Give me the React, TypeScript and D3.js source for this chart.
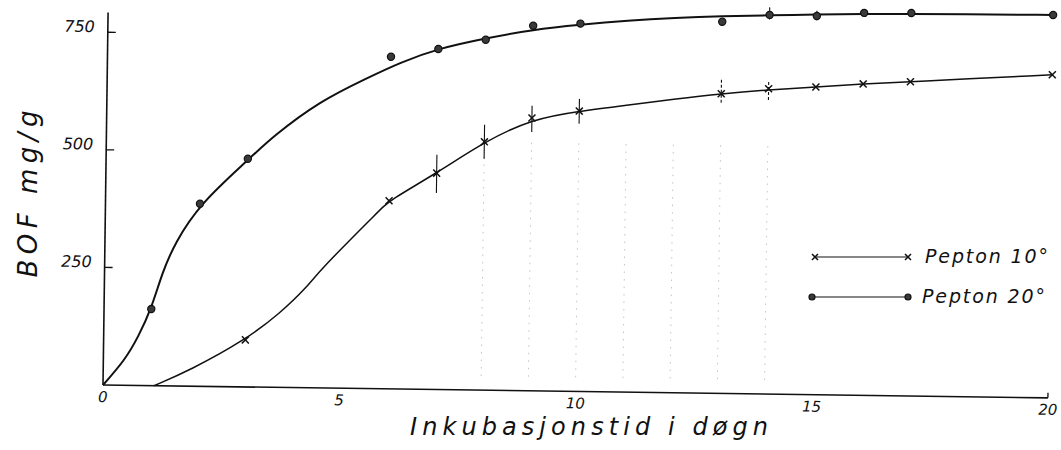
import React from "react";
import * as d3 from "d3";

// Measured points (day, BOF mg/g)
const days20 = [1, 2, 3, 6, 7, 8, 9, 10, 13, 14, 15, 16, 17, 20];
const bof20 = [163, 388, 485, 706, 724, 745, 776, 782, 790, 806, 805, 813, 814, 814];

const days10 = [3, 6, 7, 8, 9, 10, 13, 14, 15, 16, 17, 20];
const bof10 = [100, 400, 460, 528, 580, 596, 637, 649, 654, 662, 668, 687];

// Error bars
const errDays10 = [7, 8, 9, 10, 13, 14];
const errLow10 = [418, 492, 550, 569, 618, 625];
const errHigh10 = [499, 564, 606, 622, 667, 664];
const errDays20 = [14, 15];
const errLow20 = [796, 796];
const errHigh20 = [822, 816];

// Hand-drawn fitted curves
const curveX20 = [0, 0.46, 0.73, 1, 1.22, 1.48, 2, 3, 3.52, 4.51, 5.5, 6.19, 7, 8, 9, 10, 11, 12, 13, 14, 15, 16, 17, 18, 20];
const curveY20 = [0, 54, 103, 163, 240, 304, 388, 482, 533, 610, 660, 694, 725, 748, 768, 780, 790, 797, 802, 805, 808, 811, 812, 813, 814];
const curveX10 = [1.08, 1.84, 3, 3.73, 4.29, 4.56, 5.81, 6, 7, 8, 9, 10, 11, 12, 13, 14, 15, 16, 17, 20];
const curveY10 = [0, 34, 100, 158, 214, 251, 380, 400, 460, 528, 578, 596, 610, 624, 637, 647, 654, 662, 668, 687];

// faint dotted guide lines
const gridDays = [8, 9, 10, 11, 12, 13, 14];

const yTicks = [250, 500, 750];
const xTicks = [0, 5, 10, 15, 20];
const legendLabels = ["Pepton 10°", "Pepton 20°"];
const xTitle = "Inkubasjonstid i døgn";
const yTitle = "BOF mg/g";

const FONT = "'DejaVu Sans', sans-serif";
const INK = "#111";

function Cross({ cx, cy, s = 3.5, w = 1.5 }: { cx: number; cy: number; s?: number; w?: number }) {
  return (
    <g stroke={INK} strokeWidth={w}>
      <line x1={cx - s} y1={cy - s} x2={cx + s} y2={cy + s} />
      <line x1={cx - s} y1={cy + s} x2={cx + s} y2={cy - s} />
    </g>
  );
}

function Dot({ cx, cy, r = 3.6 }: { cx: number; cy: number; r?: number }) {
  return <circle cx={cx} cy={cy} r={r} fill="#3a3a3a" stroke={INK} strokeWidth={1.2} />;
}

export default function App() {
  const W = 1061;
  const H = 450;
  const x = d3.scaleLinear().domain([0, 20]).range([103, 1048]);
  const y = d3.scaleLinear().domain([0, 750]).range([385, 32.2]);

  const line = d3
    .line<[number, number]>()
    .x((d) => x(d[0]))
    .y((d) => y(d[1]))
    .curve(d3.curveBasis);

  const c20 = curveX20.map((v, i) => [v, curveY20[i]] as [number, number]);
  const c10 = curveX10.map((v, i) => [v, curveY10[i]] as [number, number]);

  return (
    <svg
      width={W}
      height={H}
      style={{ position: "absolute", left: 0, top: 0, background: "#fff" }}
      fontFamily={FONT}
    >
      <rect x={0} y={0} width={W} height={H} fill="#fff" />
      <g transform={`rotate(0.78 ${x(0)} ${y(0)})`}>
        {gridDays.map((d) => (
          <line
            key={"g" + d}
            x1={x(d)}
            x2={x(d)}
            y1={y(30)}
            y2={y(540)}
            stroke="#c4c4c4"
            strokeWidth={1}
            strokeDasharray="1.5 6"
          />
        ))}
        <line x1={x(0)} y1={y(0)} x2={x(0)} y2={y(792)} stroke={INK} strokeWidth={1.6} />
        <line x1={x(0)} y1={y(0)} x2={x(20)} y2={y(0)} stroke={INK} strokeWidth={1.6} />
        <line x1={x(20)} y1={y(0)} x2={x(20)} y2={y(0) - 5} stroke={INK} strokeWidth={1.3} />
        {yTicks.map((t) => (
          <g key={"yt" + t}>
            <line x1={x(0)} x2={x(0) + 8} y1={y(t)} y2={y(t)} stroke={INK} strokeWidth={1.3} />
            <text x={x(0) - 13} y={y(t)} textAnchor="end" fontSize={16} fontStyle="italic" fill={INK}>
              {t}
            </text>
          </g>
        ))}
        {xTicks.map((t) => (
          <text
            key={"xt" + t}
            x={x(t)}
            y={y(0) + 17}
            textAnchor="middle"
            fontSize={15}
            fontStyle="italic"
            fill={INK}
          >
            {t}
          </text>
        ))}

        <path d={line(c20) || ""} fill="none" stroke={INK} strokeWidth={2} />
        <path d={line(c10) || ""} fill="none" stroke={INK} strokeWidth={1.5} />

        {errDays10.map((d, i) => (
          <line
            key={"e10" + d}
            x1={x(d)}
            x2={x(d)}
            y1={y(errLow10[i])}
            y2={y(errHigh10[i])}
            stroke={INK}
            strokeWidth={1.1}
            strokeDasharray={d >= 13 ? "3 2" : undefined}
          />
        ))}
        {errDays20.map((d, i) => (
          <line
            key={"e20" + d}
            x1={x(d)}
            x2={x(d)}
            y1={y(errLow20[i])}
            y2={y(errHigh20[i])}
            stroke={INK}
            strokeWidth={1.1}
          />
        ))}

        {days20.map((d, i) => (
          <Dot key={"p20" + d} cx={x(d)} cy={y(bof20[i])} />
        ))}
        {days10.map((d, i) => (
          <Cross key={"p10" + d} cx={x(d)} cy={y(bof10[i])} />
        ))}
      </g>

      <text
        transform={`translate(37,194) rotate(-90)`}
        textAnchor="middle"
        fontSize={26}
        fontStyle="italic"
        fill={INK}
        textLength={167}
        lengthAdjust="spacing"
      >
        {yTitle}
      </text>
      <text
        x={410}
        y={435}
        fontSize={24}
        fontStyle="italic"
        fill={INK}
        textLength={358}
        lengthAdjust="spacing"
      >
        {xTitle}
      </text>

      <g>
        <line x1={815} x2={908} y1={257} y2={257} stroke={INK} strokeWidth={1.2} />
        <Cross cx={815} cy={257} s={3} />
        <Cross cx={908} cy={257} s={3} />
        <text x={925} y={263} fontSize={19} fontStyle="italic" fill={INK} textLength={123} lengthAdjust="spacing">
          {legendLabels[0]}
        </text>
        <line x1={812} x2={908} y1={297} y2={297} stroke={INK} strokeWidth={1.2} />
        <Dot cx={812} cy={297} r={3} />
        <Dot cx={908} cy={297} r={3} />
        <text x={922} y={303} fontSize={19} fontStyle="italic" fill={INK} textLength={123} lengthAdjust="spacing">
          {legendLabels[1]}
        </text>
      </g>
    </svg>
  );
}
